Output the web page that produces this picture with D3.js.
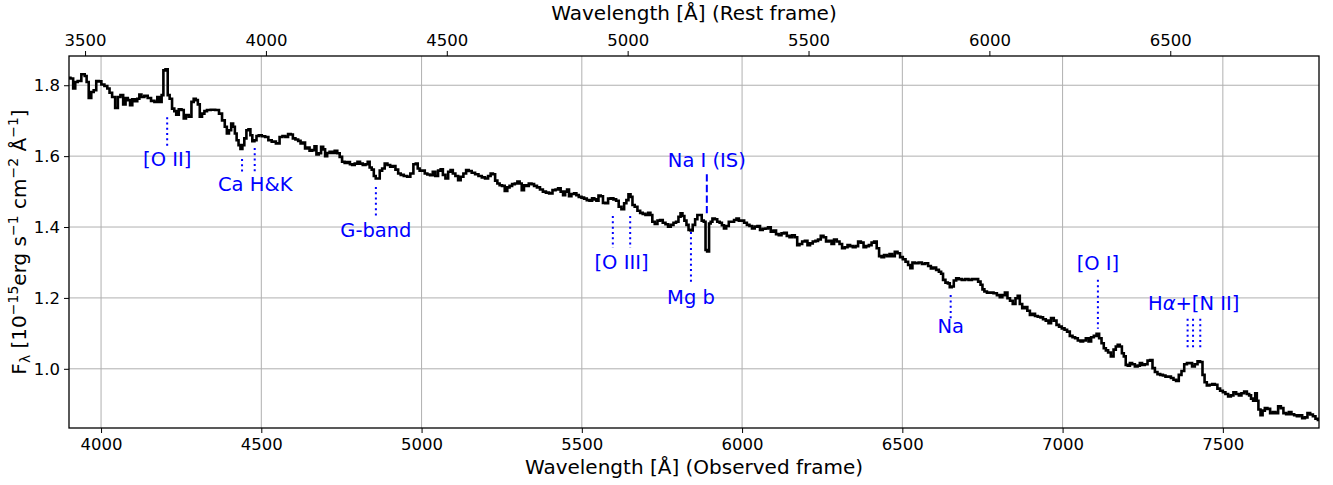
<!DOCTYPE html>
<html><head><meta charset="utf-8">
<script src="https://cdn.jsdelivr.net/npm/d3@7"></script>
<style>
body{margin:0;background:#fff}
svg{display:block}
text{font-family:"DejaVu Sans",sans-serif;fill:#000}
</style>
</head><body>
<svg id="chart" width="1333" height="485"></svg>
<script>
// ---------------- data ----------------
const wavelength = [3900,3909,3917,3922,3932,3945,3953,3957,3966,3973,3981,3989,3997,4005,4016,4023,4030,4039,4049,4056,4065,4073,4080,4087,4094,4101,4109,4117,4122,4130,4140,4151,4161,4172,4179,4186,4192,4197,4205,4211,4217,4226,4231,4238,4247,4255,4261,4269,4278,4286,4292,4299,4305,4311,4319,4326,4335,4349,4363,4373,4382,4390,4395,4403,4409,4415,4420,4426,4432,4438,4444,4450,4457,4463,4469,4475,4482,4488,4496,4507,4517,4527,4538,4553,4561,4571,4579,4588,4595,4602,4611,4619,4626,4633,4640,4647,4654,4663,4669,4675,4683,4690,4696,4702,4709,4717,4725,4733,4741,4748,4756,4764,4773,4780,4787,4796,4804,4812,4821,4829,4835,4841,4848,4854,4860,4866,4873,4881,4889,4898,4906,4914,4923,4931,4939,4950,4960,4970,4979,4985,4991,4997,5006,5014,5022,5031,5039,5047,5056,5063,5070,5079,5087,5094,5101,5110,5118,5126,5135,5143,5151,5162,5172,5183,5193,5203,5212,5219,5226,5233,5240,5247,5255,5264,5271,5278,5287,5295,5303,5309,5316,5323,5330,5339,5347,5355,5365,5374,5383,5393,5403,5414,5422,5430,5438,5445,5451,5457,5463,5472,5480,5486,5495,5503,5511,5520,5528,5536,5542,5549,5555,5563,5569,5578,5586,5594,5603,5611,5619,5628,5636,5642,5649,5655,5661,5669,5678,5686,5694,5703,5711,5717,5723,5732,5740,5748,5757,5765,5773,5782,5790,5798,5805,5811,5817,5823,5830,5836,5842,5850,5857,5864,5871,5877,5884,5888,5894,5900,5904,5911,5919,5926,5934,5940,5947,5954,5963,5971,5979,5986,5994,6002,6011,6019,6027,6035,6044,6052,6060,6069,6077,6085,6094,6102,6110,6119,6127,6135,6144,6152,6160,6169,6175,6183,6192,6200,6208,6216,6225,6233,6241,6250,6258,6266,6275,6283,6291,6300,6308,6316,6325,6333,6341,6350,6358,6366,6375,6383,6391,6400,6408,6416,6424,6431,6439,6447,6456,6464,6472,6481,6489,6497,6506,6514,6522,6528,6535,6545,6556,6566,6576,6585,6593,6601,6610,6618,6624,6630,6639,6645,6651,6657,6664,6672,6680,6691,6701,6712,6722,6732,6741,6747,6753,6759,6769,6779,6790,6800,6808,6816,6824,6832,6840,6849,6857,6863,6870,6878,6886,6894,6902,6910,6918,6927,6935,6943,6952,6960,6968,6977,6985,6993,7002,7010,7018,7027,7035,7043,7052,7060,7068,7077,7085,7093,7102,7110,7118,7125,7132,7138,7146,7155,7163,7169,7175,7182,7188,7194,7200,7207,7213,7221,7230,7238,7244,7252,7261,7269,7277,7284,7292,7300,7309,7317,7325,7334,7342,7350,7358,7367,7375,7384,7392,7400,7408,7417,7425,7433,7440,7446,7454,7463,7471,7479,7487,7496,7504,7512,7521,7529,7537,7546,7554,7562,7571,7579,7585,7591,7598,7604,7608,7614,7621,7627,7635,7643,7652,7660,7668,7677,7685,7693,7702,7710,7718,7727,7735,7743,7752,7760,7768,7777,7785,7793,7800];
const flux = [1.821,1.819,1.791,1.809,1.812,1.831,1.826,1.809,1.764,1.781,1.786,1.812,1.811,1.802,1.798,1.791,1.779,1.767,1.736,1.767,1.772,1.746,1.764,1.758,1.744,1.760,1.755,1.762,1.774,1.767,1.770,1.764,1.756,1.753,1.767,1.753,1.772,1.842,1.845,1.772,1.762,1.734,1.727,1.717,1.732,1.730,1.706,1.716,1.711,1.753,1.762,1.758,1.746,1.711,1.720,1.727,1.730,1.731,1.730,1.720,1.701,1.683,1.664,1.673,1.692,1.683,1.664,1.645,1.631,1.620,1.631,1.650,1.673,1.676,1.659,1.642,1.645,1.657,1.659,1.656,1.654,1.645,1.641,1.636,1.654,1.657,1.654,1.662,1.661,1.650,1.647,1.643,1.636,1.638,1.622,1.624,1.615,1.617,1.628,1.605,1.608,1.626,1.619,1.600,1.609,1.612,1.609,1.615,1.608,1.598,1.584,1.581,1.583,1.577,1.575,1.579,1.584,1.579,1.575,1.577,1.584,1.568,1.562,1.544,1.537,1.537,1.559,1.565,1.579,1.575,1.570,1.572,1.562,1.551,1.547,1.544,1.542,1.551,1.577,1.579,1.565,1.559,1.559,1.551,1.548,1.546,1.556,1.544,1.559,1.563,1.547,1.537,1.556,1.561,1.551,1.544,1.532,1.542,1.551,1.561,1.558,1.553,1.549,1.544,1.540,1.537,1.544,1.551,1.549,1.531,1.523,1.518,1.516,1.502,1.512,1.516,1.521,1.523,1.528,1.523,1.504,1.518,1.516,1.523,1.521,1.516,1.512,1.506,1.500,1.497,1.495,1.504,1.506,1.509,1.500,1.490,1.500,1.506,1.487,1.493,1.495,1.490,1.485,1.483,1.480,1.476,1.474,1.481,1.478,1.474,1.489,1.487,1.468,1.467,1.480,1.481,1.478,1.474,1.457,1.450,1.467,1.476,1.492,1.485,1.462,1.457,1.446,1.440,1.437,1.434,1.440,1.434,1.415,1.409,1.418,1.420,1.412,1.408,1.401,1.406,1.412,1.415,1.429,1.439,1.431,1.418,1.406,1.392,1.390,1.406,1.422,1.434,1.434,1.418,1.415,1.335,1.331,1.410,1.415,1.424,1.422,1.415,1.412,1.405,1.396,1.403,1.415,1.415,1.420,1.424,1.418,1.418,1.412,1.406,1.403,1.396,1.401,1.403,1.392,1.395,1.396,1.399,1.387,1.390,1.380,1.377,1.382,1.384,1.375,1.371,1.377,1.371,1.349,1.352,1.359,1.361,1.349,1.354,1.359,1.361,1.365,1.375,1.371,1.359,1.361,1.352,1.365,1.359,1.352,1.340,1.343,1.349,1.346,1.343,1.346,1.359,1.356,1.343,1.346,1.349,1.356,1.359,1.340,1.318,1.315,1.321,1.318,1.324,1.318,1.330,1.326,1.315,1.309,1.302,1.293,1.284,1.300,1.298,1.300,1.296,1.298,1.290,1.283,1.286,1.279,1.274,1.268,1.251,1.243,1.241,1.230,1.232,1.249,1.255,1.253,1.251,1.253,1.251,1.253,1.253,1.246,1.237,1.224,1.218,1.215,1.215,1.213,1.208,1.202,1.208,1.215,1.199,1.192,1.183,1.199,1.206,1.183,1.171,1.174,1.164,1.152,1.155,1.149,1.147,1.145,1.140,1.136,1.129,1.143,1.136,1.124,1.119,1.114,1.110,1.105,1.093,1.089,1.086,1.080,1.077,1.080,1.086,1.077,1.089,1.093,1.099,1.086,1.072,1.058,1.052,1.046,1.035,1.054,1.063,1.068,1.063,1.044,1.035,1.011,1.009,1.016,1.013,1.007,1.009,1.016,1.011,1.013,1.023,1.025,1.002,0.991,0.985,0.983,0.981,0.978,0.978,0.974,0.969,0.966,0.983,0.994,1.013,1.016,1.016,1.007,1.013,1.021,1.019,0.983,0.962,0.953,0.955,0.957,0.955,0.944,0.938,0.934,0.929,0.922,0.925,0.934,0.929,0.925,0.931,0.936,0.929,0.925,0.916,0.910,0.931,0.910,0.885,0.869,0.882,0.889,0.887,0.875,0.878,0.875,0.894,0.889,0.875,0.872,0.878,0.872,0.869,0.866,0.869,0.861,0.863,0.875,0.871,0.866,0.859,0.856];

const redshift = 0.1286;
const xTicksObserved = [4000,4500,5000,5500,6000,6500,7000,7500];
const xTicksRest = [3500,4000,4500,5000,5500,6000,6500];
const yTicks = [1.0,1.2,1.4,1.6,1.8];

// spectral features: label, wavelengths, frame of wavelengths
const lineLabels = ["[O II]","Ca H&K","G-band","[O III]","Mg b","Na I (IS)","Na","[O I]","Hα+[N II]"];
const lineWavelengths = [[3727],[3934,3969],[4304],[4959,5007],[5175],[5890],[5893],[6300],[6548,6563,6583]];
const lineFrames = ["rest","rest","rest","rest","rest","observed","rest","rest","rest"];

// ---------------- layout (annotation placement in data units) ----------------
const annotLayout = [
  {top:[1.710],       bottom:1.623, text:1.572, dash:"dot"},
  {top:[1.592,1.623], bottom:1.555, text:1.501, dash:"dot", textX:4481},
  {top:[1.513],       bottom:1.425, text:1.371, dash:"dot"},
  {top:[1.431,1.431], bottom:1.341, text:1.282, dash:"dot"},
  {top:[1.386],       bottom:1.242, text:1.183, dash:"dot"},
  {top:[1.549],       bottom:1.439, text:1.568, dash:"dash"},
  {top:[1.208],       bottom:1.138, text:1.102, dash:"dot"},
  {top:[1.251],       bottom:1.113, text:1.279, dash:"dot"},
  {top:[1.141,1.141,1.141], bottom:1.054, text:1.166, dash:"dot"}
];

const W = 1333, H = 485;
const M = {left:69, right:1319, top:56, bottom:428};
const svg = d3.select("#chart");

const x = d3.scaleLinear().domain([3900,7800]).range([M.left, M.right]);
const xRest = d3.scaleLinear().domain([3900/(1+redshift), 7800/(1+redshift)]).range([M.left, M.right]);
const y = d3.scaleLinear().domain([0.833, 1.8825]).range([M.bottom, M.top]);

// grid
const grid = svg.append("g").attr("stroke","#b0b0b0").attr("stroke-width",1);
grid.selectAll("line.gx").data(xTicksObserved).join("line")
  .attr("x1",d=>x(d)).attr("x2",d=>x(d)).attr("y1",M.top).attr("y2",M.bottom);
grid.selectAll("line.gy").data(yTicks).join("line")
  .attr("y1",d=>y(d)).attr("y2",d=>y(d)).attr("x1",M.left).attr("x2",M.right);

// clip
svg.append("clipPath").attr("id","clip").append("rect")
  .attr("x",M.left).attr("y",M.top).attr("width",M.right-M.left).attr("height",M.bottom-M.top);

// spectrum
const pts = wavelength.map((w,i)=>[w, flux[i]]);
const line = d3.line().x(d=>x(d[0])).y(d=>y(d[1])).curve(d3.curveStep);
svg.append("path").attr("clip-path","url(#clip)")
  .attr("d", line(pts)).attr("fill","none").attr("stroke","#000")
  .attr("stroke-width",2.6).attr("stroke-linejoin","miter");

// annotations
const ann = svg.append("g");
lineLabels.forEach((lab,i)=>{
  const L = annotLayout[i];
  const obs = lineWavelengths[i].map(w => lineFrames[i]==="rest" ? w*(1+redshift) : w);
  obs.forEach((w,j)=>{
    ann.append("line")
      .attr("x1",x(w)).attr("x2",x(w))
      .attr("y1",y(L.top[j])).attr("y2",y(L.bottom))
      .attr("stroke","#0000ff").attr("stroke-width",2)
      .attr("stroke-dasharray", L.dash==="dot" ? "2,3.3" : "7.4,3.2");
  });
  const tx = L.textX !== undefined ? L.textX : d3.mean(obs);
  const t = ann.append("text").attr("x",x(tx)).attr("y",y(L.text))
    .attr("text-anchor","middle").attr("font-size",19.5).style("fill","#0000ff");
  if (lab.includes("α")) {
    const parts = lab.split("α");
    t.append("tspan").text(parts[0]);
    t.append("tspan").attr("font-style","italic").text("α");
    t.append("tspan").text(parts[1]);
  } else t.text(lab);
});

// spines
svg.append("rect").attr("x",M.left).attr("y",M.top)
  .attr("width",M.right-M.left).attr("height",M.bottom-M.top)
  .attr("fill","none").attr("stroke","#000").attr("stroke-width",1.3);

// axes
function styleAxis(g){
  g.select(".domain").remove();
  g.selectAll(".tick line").attr("stroke","#000").attr("stroke-width",1);
  g.selectAll(".tick text").attr("font-size",16.5).attr("font-family","DejaVu Sans").attr("fill","#000");
}
svg.append("g").attr("transform",`translate(0,${M.bottom})`)
  .call(d3.axisBottom(x).tickValues(xTicksObserved).tickFormat(d3.format("d")).tickSize(5).tickPadding(5))
  .call(styleAxis);
svg.append("g").attr("transform",`translate(0,${M.top})`)
  .call(d3.axisTop(xRest).tickValues(xTicksRest).tickFormat(d3.format("d")).tickSize(5).tickPadding(5))
  .call(styleAxis);
svg.append("g").attr("transform",`translate(${M.left},0)`)
  .call(d3.axisLeft(y).tickValues(yTicks).tickFormat(d3.format(".1f")).tickSize(5).tickPadding(4))
  .call(styleAxis);

// axis labels
const cx = (M.left+M.right)/2;
svg.append("text").attr("x",cx).attr("y",474).attr("text-anchor","middle")
  .attr("font-size",20).text("Wavelength [Å] (Observed frame)");
svg.append("text").attr("x",cx).attr("y",20).attr("text-anchor","middle")
  .attr("font-size",20).text("Wavelength [Å] (Rest frame)");

const yl = svg.append("text").attr("transform",`translate(26,${(M.top+M.bottom)/2}) rotate(-90)`)
  .attr("text-anchor","middle").attr("font-size",20);
yl.append("tspan").text("F");
yl.append("tspan").attr("font-size",14).attr("dy",4).text("λ");
yl.append("tspan").attr("dy",-4).text(" [10");
yl.append("tspan").attr("font-size",14).attr("dy",-8).text("−15");
yl.append("tspan").attr("dy",8).text("erg s");
yl.append("tspan").attr("font-size",14).attr("dy",-8).text("−1");
yl.append("tspan").attr("dy",8).text(" cm");
yl.append("tspan").attr("font-size",14).attr("dy",-8).text("−2");
yl.append("tspan").attr("dy",8).text(" Å");
yl.append("tspan").attr("font-size",14).attr("dy",-8).text("−1");
yl.append("tspan").attr("dy",8).text("]");
</script>
</body></html>
